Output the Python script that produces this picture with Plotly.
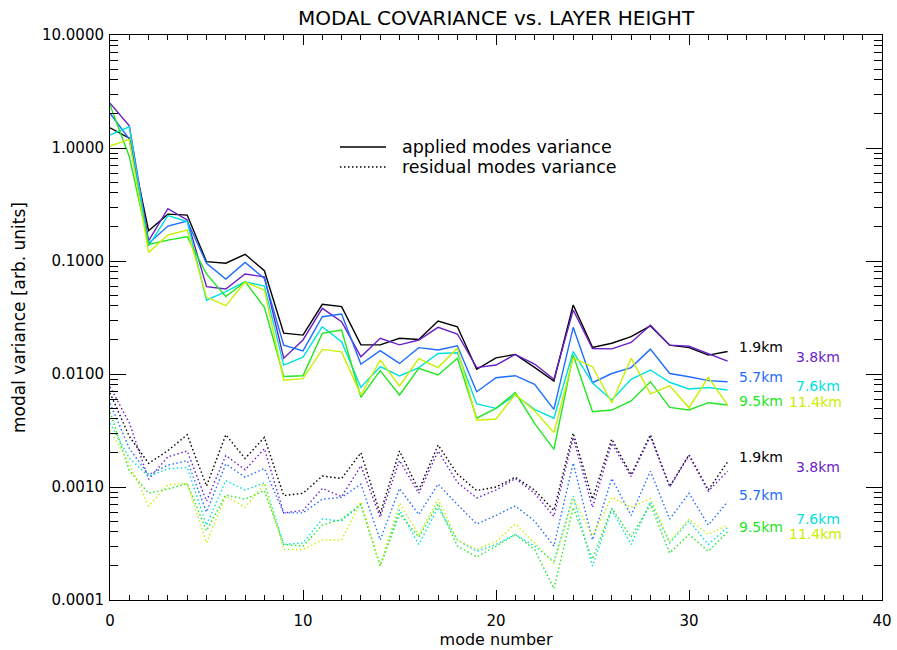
import math
import plotly.graph_objects as go

modes = list(range(33))

heights = ["1.9km", "3.8km", "5.7km", "7.6km", "9.5km", "11.4km"]
colors = ["#000000", "#6a1ec8", "#1e6eff", "#00e0e0", "#22e622", "#c8f000"]

applied_19 = [1.51, 1.22, 0.185, 0.26, 0.255, 0.0986, 0.0955, 0.1146, 0.082, 0.023, 0.0221,
              0.0414, 0.0395, 0.0181, 0.0181, 0.0207, 0.0202, 0.0294, 0.0262, 0.0110, 0.0139,
              0.0149, 0.01146, 0.00867, 0.0408, 0.0172, 0.0187, 0.0214, 0.0266, 0.0180, 0.0171,
              0.0147, 0.0158]
applied_38 = [2.49, 1.57, 0.151, 0.29, 0.231, 0.0593, 0.0565, 0.0767, 0.0723, 0.0138, 0.0200,
              0.0381, 0.0290, 0.0142, 0.0207, 0.0181, 0.020, 0.0259, 0.0226, 0.0114, 0.0120,
              0.0149, 0.01225, 0.00897, 0.0368, 0.0168, 0.0167, 0.0190, 0.027, 0.018, 0.0176,
              0.0152, 0.0130]
applied_57 = [2.03, 1.2, 0.143, 0.204, 0.226, 0.0955, 0.0693, 0.0970, 0.07, 0.018, 0.0160,
              0.0321, 0.034, 0.0122, 0.0161, 0.0124, 0.0171, 0.0163, 0.0178, 0.00697, 0.00927,
              0.00966, 0.0081, 0.00487, 0.0259, 0.00838, 0.0101, 0.0114, 0.0166, 0.0101, 0.00946,
              0.00873, 0.00855]
applied_76 = [1.30, 1.54, 0.136, 0.252, 0.223, 0.045, 0.0535, 0.0656, 0.060, 0.012, 0.0141,
              0.0262, 0.0193, 0.00762, 0.0116, 0.0096, 0.0114, 0.0152, 0.0154, 0.00543, 0.00497,
              0.00652, 0.00487, 0.00406, 0.0158, 0.0083, 0.00589, 0.00897, 0.01085, 0.00845,
              0.00737, 0.0076, 0.00722]
applied_95 = [2.40, 0.84, 0.14, 0.153, 0.164, 0.077, 0.0485, 0.0656, 0.039, 0.0095, 0.00966,
              0.0229, 0.0245, 0.00622, 0.0107, 0.00652, 0.0112, 0.0098, 0.0138, 0.00406, 0.00497,
              0.00684, 0.00366, 0.00215, 0.0147, 0.00464, 0.0048, 0.00577, 0.00855, 0.00507,
              0.0048, 0.00557, 0.00532]
applied_114 = [1.04, 1.19, 0.119, 0.170, 0.188, 0.048, 0.0403, 0.065, 0.0554, 0.0088, 0.0091,
               0.0165, 0.0157, 0.00652, 0.0133, 0.00783, 0.0137, 0.0114, 0.0169, 0.0039, 0.0040,
               0.0066, 0.00473, 0.00303, 0.0138, 0.0116, 0.00557, 0.0138, 0.00666, 0.00787,
               0.00503, 0.00935, 0.00532]

residual_19 = [0.0068, 0.0028, 0.00162, 0.0021, 0.0029, 0.00102, 0.0029, 0.00179, 0.00275, 0.00084,
               0.00088, 0.00125, 0.00119, 0.00201, 0.00058, 0.00208, 0.00094, 0.00235, 0.0013,
               0.00093, 0.0010, 0.00122, 0.00094, 0.00062, 0.0030, 0.00078, 0.00265, 0.00128,
               0.0029, 0.00101, 0.00193, 0.00094, 0.00167]
residual_38 = [0.0077, 0.0037, 0.00117, 0.00185, 0.00208, 0.00075, 0.0019, 0.00142, 0.00218,
               0.00059, 0.00062, 0.00097, 0.00082, 0.00154, 0.00054, 0.00172, 0.00088, 0.00208,
               0.0011, 0.0008, 0.00094, 0.00119, 0.00088, 0.00055, 0.00274, 0.00066, 0.00244,
               0.00124, 0.0028, 0.001, 0.0019, 0.00092, 0.00138]
residual_57 = [0.0055, 0.0022, 0.00128, 0.00156, 0.00171, 0.0006, 0.0016, 0.00122, 0.00146, 0.00059,
               0.00059, 0.00078, 0.00081, 0.00106, 0.00034, 0.00097, 0.00057, 0.00106, 0.0007,
               0.00047, 0.00056, 0.00068, 0.0005, 0.0003, 0.00163, 0.00034, 0.00119, 0.00056,
               0.00138, 0.00052, 0.00088, 0.00046, 0.00074]
residual_76 = [0.00366, 0.0018, 0.00124, 0.00145, 0.00149, 0.00046, 0.00114, 0.00094, 0.00109,
               0.00031, 0.00032, 0.00052, 0.0005, 0.0007, 0.0002, 0.00063, 0.00031, 0.00066,
               0.00034, 0.00027, 0.00031, 0.00038, 0.0003, 0.00022, 0.00083, 0.0002, 0.00063,
               0.00031, 0.00074, 0.00032, 0.0005, 0.00031, 0.00044]
residual_95 = [0.0046, 0.0014, 0.00088, 0.00096, 0.00107, 0.00041, 0.00085, 0.00078, 0.00093,
               0.00031, 0.0003, 0.00046, 0.00052, 0.0007, 0.0002, 0.00058, 0.00036, 0.00071,
               0.0003, 0.00024, 0.0003, 0.00038, 0.00028, 0.000126, 0.00066, 0.00023, 0.00065,
               0.00036, 0.0007, 0.00026, 0.00038, 0.00027, 0.0004]
residual_114 = [0.0032, 0.0016, 0.00068, 0.00105, 0.00107, 0.00032, 0.00083, 0.00066, 0.00107,
                0.00028, 0.00028, 0.00034, 0.00034, 0.00074, 0.0002, 0.00072, 0.00038, 0.00078,
                0.00034, 0.00028, 0.00033, 0.00047, 0.00032, 0.00021, 0.00079, 0.00037, 0.00081,
                0.00066, 0.00079, 0.00033, 0.00052, 0.00038, 0.00046]

applied = [applied_19, applied_38, applied_57, applied_76, applied_95, applied_114]
residual = [residual_19, residual_38, residual_57, residual_76, residual_95, residual_114]

# label positions (mode, value) for the height labels at right
label_x = [32.5, 35.45, 32.5, 35.45, 32.5, 35.1]
applied_label_y = [0.0173, 0.0141, 0.0094, 0.0078, 0.0058, 0.0057]
residual_label_y = [0.00185, 0.00151, 0.00085, 0.00052, 0.00044, 0.00038]

ytick_vals = [1e-4, 1e-3, 1e-2, 1e-1, 1, 10]
ytick_text = ["0.0001", "0.0010", "0.0100", "0.1000", "1.0000", "10.0000"]
xtick_vals = [0, 10, 20, 30, 40]

FONT = "DejaVu Sans"
DOT = "1.5px,2.5px"

fig = go.Figure()
for name, col, a, r in zip(heights, colors, applied, residual):
    fig.add_trace(go.Scatter(x=modes, y=a, mode="lines", line=dict(color=col, width=1.4),
                             name=name, showlegend=False))
    fig.add_trace(go.Scatter(x=modes, y=r, mode="lines", line=dict(color=col, width=1.4, dash=DOT),
                             name=name, showlegend=False))

annotations = []
for name, col, lx, ay, ry in zip(heights, colors, label_x, applied_label_y, residual_label_y):
    for yv in (ay, ry):
        annotations.append(dict(x=lx, y=math.log10(yv), xref="x", yref="y", text=name,
                                showarrow=False, xanchor="left", yanchor="middle",
                                font=dict(family=FONT, size=14, color=col)))

# legend (paper coordinates)
L, R, T, B = 110, 882, 35, 600
def px(xp):
    return (xp - L) / (R - L)
def py(yp):
    return (B - yp) / (B - T)

shapes = [
    dict(type="line", xref="paper", yref="paper", x0=px(340), x1=px(386), y0=py(147), y1=py(147),
         line=dict(color="black", width=1.6)),
    dict(type="line", xref="paper", yref="paper", x0=px(340), x1=px(386), y0=py(167), y1=py(167),
         line=dict(color="black", width=1.4, dash=DOT)),
]
annotations.append(dict(x=px(400), y=py(147), xref="paper", yref="paper", text="applied modes variance",
                        showarrow=False, xanchor="left", yanchor="middle",
                        font=dict(family=FONT, size=17.5, color="black")))
annotations.append(dict(x=px(400), y=py(167), xref="paper", yref="paper", text="residual modes variance",
                        showarrow=False, xanchor="left", yanchor="middle",
                        font=dict(family=FONT, size=17.5, color="black")))

minor_y = [m * 10.0 ** e for e in range(-4, 1) for m in range(2, 10)]

fig.update_layout(
    width=897, height=650, autosize=False,
    margin=dict(l=L, r=897 - R, t=T, b=650 - B),
    paper_bgcolor="white", plot_bgcolor="white",
    title=dict(text="MODAL COVARIANCE vs. LAYER HEIGHT", x=0.5 * (L + R) / 897, xanchor="center",
               y=1 - 18 / 650, yanchor="middle", font=dict(family=FONT, size=20, color="black")),
    font=dict(family=FONT, size=15, color="black"),
    showlegend=False,
    shapes=shapes,
    annotations=annotations,
    xaxis=dict(range=[0, 40], tickmode="array", tickvals=xtick_vals, ticks="inside", ticklen=10,
               tickwidth=1, tickcolor="black", showline=True, linecolor="black", linewidth=1,
               mirror="allticks", showgrid=False, zeroline=False, automargin=False,
               tickfont=dict(family=FONT, size=15), ticklabelstandoff=7,
               minor=dict(tickmode="linear", tick0=0, dtick=1, ticks="inside", ticklen=5,
                          tickcolor="black", showgrid=False),
               title=dict(text="mode number", font=dict(family=FONT, size=16), standoff=2)),
    yaxis=dict(type="log", range=[-4, 1], tickmode="array", tickvals=ytick_vals, ticktext=ytick_text,
               ticks="inside", ticklen=16, tickwidth=1, tickcolor="black", showline=True,
               linecolor="black", linewidth=1, mirror="allticks", showgrid=False, zeroline=False,
               automargin=False,
               tickfont=dict(family=FONT, size=15), ticklabelstandoff=2,
               minor=dict(tickmode="array", tickvals=minor_y, ticks="inside", ticklen=8,
                          tickcolor="black", showgrid=False),
               title=dict(text="modal variance [arb. units]", font=dict(family=FONT, size=17),
                          standoff=12)),
)

fig.write_html("out.html")
